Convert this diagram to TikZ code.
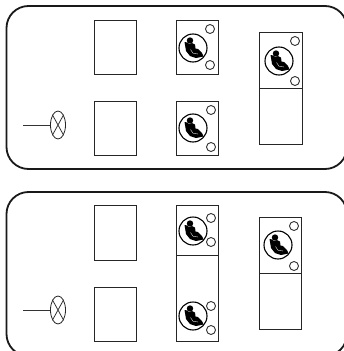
\documentclass[tikz,border=0pt]{standalone}
\usetikzlibrary{shapes.geometric}
\tikzset{
  panel/.style={draw=black!90,line width=1.8pt,rounded corners=22pt},
  bay/.style={draw=black!85,line width=1pt},
  ring/.style={draw=black!80,line width=0.9pt},
  seatring/.style={draw=black,line width=1.1pt},
  lampnode/.style={draw=black!85,shape=ellipse,line width=0.8pt,minimum width=15pt,minimum height=28pt,inner sep=0pt},
  wire/.style={draw=black!80,line width=0.8pt},
  seaticon/.pic={
    \draw[seatring] (0,0) circle (14);
    \fill[black] (-8.5,-6) -- (-5.5,-5.5) -- (-4,-4) -- (-1,-5) -- (2,-3.5) -- (2.5,0.5) -- (5,1) -- (9,5) -- (10.5,8.5) -- (3,10) -- (-3,8) -- (-7,3) -- cycle;
    \fill[black] (-3,-7.5) circle (3.2);
    \draw[white,line width=0.35pt] (5,6) -- (0,5.2) -- (-2.5,1.5);
  }
}
\begin{document}
\begin{tikzpicture}[x=1pt,y=-1pt]
\useasboundingbox (0,0) rectangle (344,351);
\clip (0,0) rectangle (344,351);
\fill[white] (0,0) rectangle (344,351);
% panels
\draw[panel] (6.5,6) rectangle (347,169);
\draw[panel] (6.5,192) rectangle (347,356);
% top panel bays
\draw[bay] (94,20) rectangle (136,74);
\draw[bay] (94,101) rectangle (136,155);
\draw[bay] (176,20) rectangle (218,74);
\draw[bay] (176,101) rectangle (218,155);
\draw[bay] (259,32) rectangle (302,144);
\draw[bay] (259,88) -- (302,88);
% bottom panel bays
\draw[bay] (94,205) rectangle (136,260);
\draw[bay] (94,287) rectangle (136,341);
\draw[bay] (176,205) rectangle (218,341);
\draw[bay] (176,255) -- (218,255);
\draw[bay] (259,217) rectangle (301,329);
\draw[bay] (259,273) -- (301,273);
% seats
\pic at (193,48) {seaticon};
\pic at (193,128) {seaticon};
\pic at (279,61) {seaticon};
\pic at (193,231) {seaticon};
\pic at (193,316) {seaticon};
\pic at (278,245) {seaticon};
% small circles
\foreach \x/\y in {210/29,210/65,211/110,211/147,295/41,295/81,211/218,211/242,211/306,211/330,294/226,294/266}
  \draw[ring] (\x,\y) circle (4.5);
% lamps
\node[lampnode] (lampa) at (58,125) {};
\draw[wire] (lampa.north west) -- (lampa.south east) (lampa.north east) -- (lampa.south west);
\coordinate (wirea) at (23,125);
\draw[wire] (wirea) -- (lampa.west);
\node[lampnode] (lampb) at (58,310) {};
\draw[wire] (lampb.north west) -- (lampb.south east) (lampb.north east) -- (lampb.south west);
\coordinate (wireb) at (23,310);
\draw[wire] (wireb) -- (lampb.west);
\end{tikzpicture}
\end{document}
